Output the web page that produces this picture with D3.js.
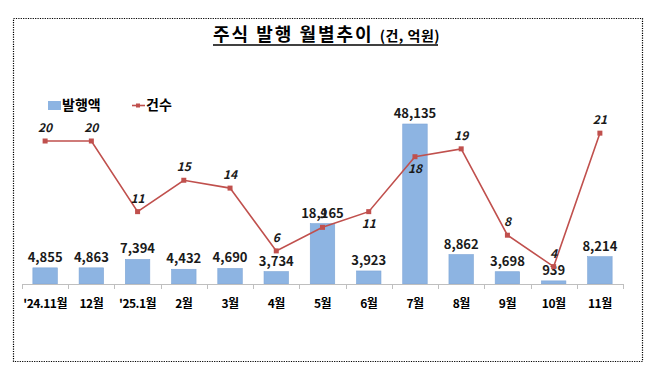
<!DOCTYPE html>
<html>
<head>
<meta charset="utf-8">
<script src="https://cdn.jsdelivr.net/npm/d3@7"></script>
<style>
  body { margin: 0; background: #fff; }
  svg { display: block; font-family: "Noto Sans CJK KR", "Noto Sans", sans-serif; }
</style>
</head>
<body>
<div id="chart"></div>
<script>
// months on the x axis
const months = ["'24.11월", "12월", "'25.1월", "2월", "3월", "4월", "5월", "6월", "7월", "8월", "9월", "10월", "11월"];
// 발행액 (억원)
const amounts = [4855, 4863, 7394, 4432, 4690, 3734, 18165, 3923, 48135, 8862, 3698, 939, 8214];
// 건수
const counts = [20, 20, 11, 15, 14, 6, 9, 11, 18, 19, 8, 4, 21];
// where the count label sits: -1 above the point, 1 below
const countLabelSide = [-1, -1, -1, -1, -1, -1, -1, 1, 1, -1, -1, -1, -1];

const W = 659, H = 377;
const svg = d3.select("#chart").append("svg")
    .attr("width", W)
    .attr("height", H);

// dotted frame
svg.append("rect")
    .attr("x", 13.5).attr("y", 18.5)
    .attr("width", 629).attr("height", 343)
    .attr("fill", "none")
    .attr("stroke", "#000")
    .attr("stroke-width", 1.2)
    .attr("stroke-dasharray", "1.2,1.2");

// title
const title = svg.append("text")
    .attr("x", 213).attr("y", 41)
    .attr("fill", "#000")
    .attr("font-weight", "bold");
title.append("tspan").attr("font-size", 18).attr("letter-spacing", "2").text("주식 발행 월별추이");
title.append("tspan").attr("font-size", 14).attr("letter-spacing", "0.5").attr("dx", 6).text("(건, 억원)");
svg.append("line")
    .attr("x1", 213).attr("x2", 438)
    .attr("y1", 45).attr("y2", 45)
    .attr("stroke", "#000").attr("stroke-width", 1.4);

// scales
const x = d3.scaleBand()
    .domain(months)
    .range([22, 623])
    .paddingInner(0.47)
    .paddingOuter(0.235);

const baseY = 284;
const yBar = d3.scaleLinear().domain([0, 48135]).range([baseY, 124]);
const yLine = d3.scaleLinear().domain([0, 20]).range([298, 141]);

// bars
svg.append("g").selectAll("rect")
    .data(amounts)
    .enter().append("rect")
    .attr("x", (d, i) => x(months[i]))
    .attr("y", d => yBar(d))
    .attr("width", x.bandwidth())
    .attr("height", d => baseY - yBar(d))
    .attr("fill", "#8DB4E2")
    .attr("stroke", "#7FA6D6")
    .attr("stroke-width", 0.6);

// x axis line + ticks between categories
svg.append("line")
    .attr("x1", 22).attr("x2", 623)
    .attr("y1", baseY + 0.5).attr("y2", baseY + 0.5)
    .attr("stroke", "#BFBFBF").attr("stroke-width", 1);

const tickXs = months.map((m, i) => i === 0 ? x.range()[0] : x(m) - x.step() * x.paddingInner() / 2);
tickXs.push(x.range()[1]);
svg.append("g").selectAll("line")
    .data(tickXs)
    .enter().append("line")
    .attr("x1", d => Math.round(d) + 0.5)
    .attr("x2", d => Math.round(d) + 0.5)
    .attr("y1", baseY)
    .attr("y2", baseY + 5)
    .attr("stroke", "#BFBFBF");

// category labels
svg.append("g").selectAll("text")
    .data(months)
    .enter().append("text")
    .attr("x", d => x(d) + x.bandwidth() / 2)
    .attr("y", 308)
    .attr("text-anchor", "middle")
    .attr("font-size", 12)
    .attr("font-weight", "bold")
    .attr("letter-spacing", "-0.5")
    .attr("fill", "#000")
    .text(d => d);

// bar value labels
svg.append("g").selectAll("text")
    .data(amounts)
    .enter().append("text")
    .attr("x", (d, i) => x(months[i]) + x.bandwidth() / 2)
    .attr("y", d => yBar(d) - 6)
    .attr("text-anchor", "middle")
    .attr("font-size", 13)
    .attr("font-weight", "bold")
    .attr("fill", "#1a1a1a")
    .text(d => d3.format(",")(d));

// count line
const cx = (i) => x(months[i]) + x.bandwidth() / 2;
const line = d3.line()
    .x((d, i) => cx(i))
    .y(d => yLine(d));

svg.append("path")
    .datum(counts)
    .attr("d", line)
    .attr("fill", "none")
    .attr("stroke", "#C0504D")
    .attr("stroke-width", 1.6);

svg.append("g").selectAll("rect")
    .data(counts)
    .enter().append("rect")
    .attr("x", (d, i) => cx(i) - 2.5)
    .attr("y", d => yLine(d) - 2.5)
    .attr("width", 5)
    .attr("height", 5)
    .attr("fill", "#C0504D");

svg.append("g").selectAll("text")
    .data(counts)
    .enter().append("text")
    .attr("x", (d, i) => cx(i))
    .attr("y", (d, i) => countLabelSide[i] < 0 ? yLine(d) - 9 : yLine(d) + 16)
    .attr("text-anchor", "middle")
    .attr("font-size", 12)
    .attr("font-weight", "bold")
    .attr("font-style", "italic")
    .attr("fill", "#1a1a1a")
    .text(d => d);

// legend
const legend = svg.append("g");
legend.append("rect")
    .attr("x", 48).attr("y", 101)
    .attr("width", 13).attr("height", 9)
    .attr("fill", "#8DB4E2");
legend.append("text")
    .attr("x", 62).attr("y", 110)
    .attr("font-size", 14).attr("font-weight", "bold")
    .attr("fill", "#000")
    .text("발행액");
legend.append("line")
    .attr("x1", 132).attr("x2", 145)
    .attr("y1", 105.5).attr("y2", 105.5)
    .attr("stroke", "#C0504D").attr("stroke-width", 1.6);
legend.append("rect")
    .attr("x", 136).attr("y", 103.5)
    .attr("width", 4).attr("height", 4)
    .attr("fill", "#C0504D");
legend.append("text")
    .attr("x", 146).attr("y", 110)
    .attr("font-size", 14).attr("font-weight", "bold")
    .attr("fill", "#000")
    .text("건수");
</script>
</body>
</html>
